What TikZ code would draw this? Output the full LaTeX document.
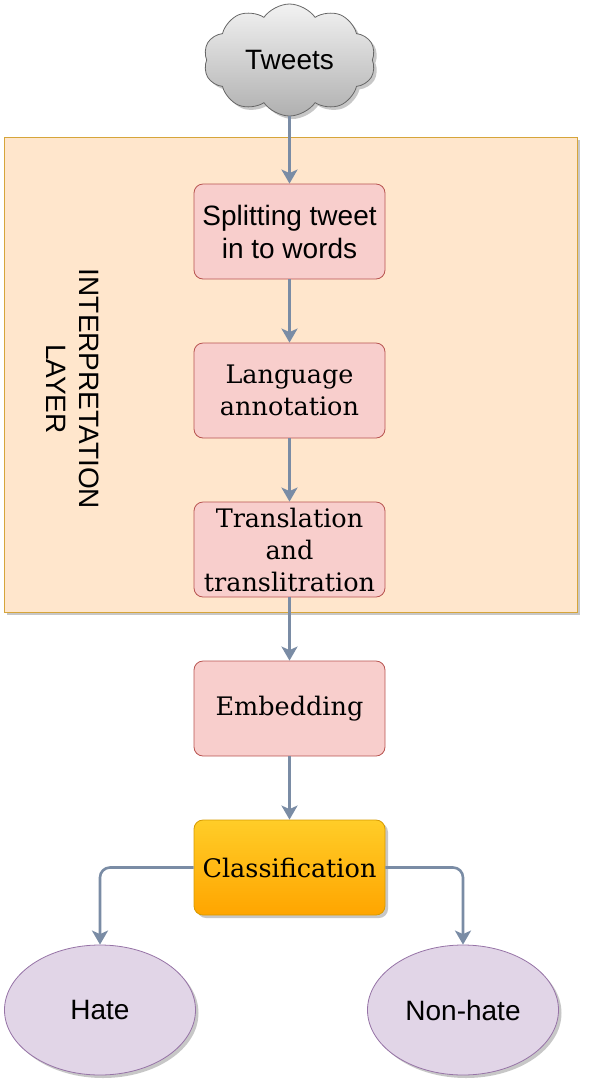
\documentclass[tikz,border=0pt]{standalone}
\usepackage{fontspec}
\setmainfont{DejaVu Serif}
\setsansfont{Liberation Sans}
\usepackage{tikz}
\usetikzlibrary{arrows.meta,shapes.geometric,shapes.symbols,shadows}
\definecolor{layerf}{HTML}{FFE6CC}
\definecolor{layerd}{HTML}{D6A53A}
\definecolor{stepf}{HTML}{F8CECC}
\definecolor{stepd}{HTML}{B85450}
\definecolor{clsd}{HTML}{D79B00}
\definecolor{clst}{HTML}{FFCD28}
\definecolor{clsb}{HTML}{FFA500}
\definecolor{outf}{HTML}{E1D5E7}
\definecolor{outd}{HTML}{9673A6}
\definecolor{linec}{HTML}{7A8CA5}
\definecolor{cldt}{HTML}{F2F2F2}
\definecolor{cldb}{HTML}{B0B0B0}
\definecolor{cldd}{HTML}{666666}
\tikzset{
  ar/.style={-{Stealth[length=14pt,width=16pt,inset=3.5pt]},line width=2.6pt,linec},
  shd/.style={drop shadow={shadow xshift=3pt,shadow yshift=-3pt,fill=black,opacity=0.22}},
  sbox/.style={rectangle,rounded corners=9pt,draw=stepd,fill=stepf,line width=0.8pt,minimum width=191pt,minimum height=95pt,align=center,inner sep=1pt},
  ser/.style={font=\fontsize{25.5}{32}\selectfont},
  san/.style={font=\sffamily\fontsize{28}{33}\selectfont},
  outc/.style={ellipse,draw=outd,fill=outf,line width=0.8pt,minimum width=191pt,minimum height=130pt,inner sep=0pt,san,shd}
}
\begin{document}
\begin{tikzpicture}[x=1pt,y=-1pt]
\useasboundingbox (0,0) rectangle (591,1088);
% container
\node[rectangle,draw=layerd,fill=layerf,line width=1pt,minimum width=573pt,minimum height=475pt,shd] (layer) at (290.5,374.5) {};
\node[san,rotate=-90,align=center] (lbl) at (73,389) {INTERPRETATION\\LAYER};
% input
\node[cloud,cloud puffs=10,cloud puff arc=110,aspect=1.6,draw=cldd,top color=cldt,bottom color=cldb,line width=0.8pt,minimum width=172pt,minimum height=112pt,inner sep=0pt,san,shd] (tw) at (289.5,60) {Tweets};
% steps
\node[sbox,san] (split) at (289.5,231.5) {Splitting tweet\\in to words};
\node[sbox,ser] (lang) at (289.5,390.5) {Language\\annotation};
\node[sbox,ser,inner sep=0pt] (trans) at (289.5,549.5) {Translation\\and\\translitration};
\node[sbox,ser] (emb) at (289.5,708.5) {Embedding};
\node[sbox,ser,draw=clsd,top color=clst,bottom color=clsb,shd] (cls) at (289.5,867.5) {Classification};
% outputs
\node[outc] (hate) at (100,1010) {Hate};
\node[outc] (nhate) at (463,1010) {Non-hate};
% arrows
\draw[ar] (tw) -- (split);
\draw[ar] (split) -- (lang);
\draw[ar] (lang) -- (trans);
\draw[ar] (trans) -- (emb);
\draw[ar] (emb) -- (cls);
\draw[ar,rounded corners=10pt] (cls.west) -| (hate.north);
\draw[ar,rounded corners=10pt] (cls.east) -| (nhate.north);
\end{tikzpicture}
\end{document}
